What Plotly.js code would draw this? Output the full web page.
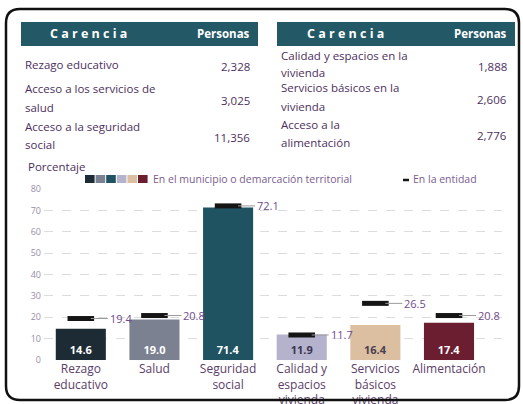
<!DOCTYPE html>
<html>
<head>
<meta charset="utf-8">
<script src="https://cdn.plot.ly/plotly-3.0.1.min.js"></script>
<style>html,body{margin:0;padding:0;background:#fff;}#chart{width:523px;height:404px;}</style>
</head>
<body>
<div id="chart"></div>
<script>
// ---- Data ----
const categories = ["Rezago<br>educativo", "Salud", "Seguridad<br>social", "Calidad y<br>espacios<br>vivienda", "Servicios<br>básicos<br>vivienda", "Alimentación"];
const municipioValues = [14.6, 19.0, 71.4, 11.9, 16.4, 17.4];
const entidadValues = [19.4, 20.8, 72.1, 11.7, 26.5, 20.8];
const barColors = ["#1d2c34", "#7c8192", "#1f5361", "#b4b2cc", "#dcbea0", "#6a1e30"];
const barTextColors = ["#ffffff", "#ffffff", "#ffffff", "#3a3550", "#4a4050", "#ffffff"];
const yTicks = [0, 10, 20, 30, 40, 50, 60, 70, 80];

const tableLeftCarencias = ["Rezago educativo", "Acceso a los servicios de<br>salud", "Acceso a la seguridad<br>social"];
const tableLeftPersonas = ["2,328", "3,025", "11,356"];
const tableRightCarencias = ["Calidad y espacios en la<br>vivienda", "Servicios básicos en la<br>vivienda", "Acceso a la<br>alimentación"];
const tableRightPersonas = ["1,888", "2,606", "2,776"];

// ---- Helpers (pixel -> paper fraction of whole figure) ----
const W = 523, H = 404;
const X = px => px / W;
const Y = py => 1 - py / H;
const FONT = "Open Sans, sans-serif";
const TXT = "#4d2f5e";
const HEAD = "#235866";

const traces = [
  {
    type: "bar",
    x: categories,
    y: municipioValues,
    marker: {color: barColors},
    text: municipioValues.map(v => "<b>" + v.toFixed(1) + "</b>"),
    textposition: "inside",
    insidetextanchor: "start",
    textfont: {family: FONT, size: 11, color: barTextColors},
    hoverinfo: "skip",
    showlegend: false
  },
  {
    type: "scatter",
    mode: "markers",
    x: categories,
    y: entidadValues,
    marker: {symbol: "line-ew", size: 19, color: "#151515", line: {width: 5, color: "#151515"}},
    hoverinfo: "skip",
    showlegend: false
  }
];

const annotations = [];
const shapes = [];

// entity value labels with thin connector
entidadValues.forEach((v, i) => {
  annotations.push({
    x: categories[i], y: v, xref: "x", yref: "y",
    text: v.toFixed(1), showarrow: true, ax: 27, ay: 0,
    xanchor: "left", arrowhead: 0, arrowwidth: 1, arrowcolor: "#9a9a9a", standoff: 10,
    font: {family: FONT, size: 11, color: "#6f4a8c"}
  });
});

// outer rounded frame
(function(){
  const l = 6, t = 9, r = 519, b = 400, rad = 14;
  const p = `M ${X(l)},${Y(b - rad)} L ${X(l)},${Y(t + rad)} Q ${X(l)},${Y(t)} ${X(l + rad)},${Y(t)} L ${X(r - rad)},${Y(t)} Q ${X(r)},${Y(t)} ${X(r)},${Y(t + rad)} L ${X(r)},${Y(b - rad)} Q ${X(r)},${Y(b)} ${X(r - rad)},${Y(b)} L ${X(l + rad)},${Y(b)} Q ${X(l)},${Y(b)} ${X(l)},${Y(b - rad)} Z`;
  shapes.push({type: "path", xref: "paper", yref: "paper", path: p, line: {color: "#111", width: 2.5}, fillcolor: "rgba(0,0,0,0)", layer: "above"});
})();

// tables
function addTable(x0, x1, carencias, personas, cx, rowYs) {
  shapes.push({type: "rect", xref: "paper", yref: "paper", x0: X(x0), x1: X(x1), y0: Y(46), y1: Y(22), fillcolor: HEAD, line: {width: 0}});
  annotations.push({xref: "paper", yref: "paper", x: X(cx), y: Y(34), text: "<b>C a r e n c i a</b>", showarrow: false, xanchor: "center", yanchor: "middle", font: {family: FONT, size: 12.5, color: "#ffffff"}});
  annotations.push({xref: "paper", yref: "paper", x: X(x1 - 6), y: Y(34), text: "<b>Personas</b>", showarrow: false, xanchor: "right", yanchor: "middle", font: {family: FONT, size: 11.5, color: "#ffffff"}});
  carencias.forEach((c, i) => {
    const lines = c.split("<br>");
    const step = 18;
    const top = rowYs[i] - (lines.length - 1) * step / 2;
    lines.forEach((ln, k) => {
      annotations.push({xref: "paper", yref: "paper", x: X(x0 + 2), y: Y(top + k * step), text: ln, showarrow: false, xanchor: "left", yanchor: "middle", align: "left", font: {family: FONT, size: 11.5, color: TXT}});
    });
    annotations.push({xref: "paper", yref: "paper", x: X(x1 - 6), y: Y(rowYs[i] + 2), text: personas[i], showarrow: false, xanchor: "right", yanchor: "middle", font: {family: FONT, size: 11.5, color: TXT}});
  });
}
addTable(21, 258, tableLeftCarencias, tableLeftPersonas, 88, [64, 98, 135]);
addTable(277, 515, tableRightCarencias, tableRightPersonas, 345, [64, 97, 133]);

// y-axis title
annotations.push({xref: "paper", yref: "paper", x: X(26), y: Y(167), text: "Porcentaje", showarrow: false, xanchor: "left", yanchor: "middle", font: {family: FONT, size: 11.5, color: TXT}});

// legend swatches
barColors.forEach((c, i) => {
  const sx = 85 + i * 10.6;
  shapes.push({type: "rect", xref: "paper", yref: "paper", x0: X(sx), x1: X(sx + 9.6), y0: Y(183), y1: Y(175), fillcolor: c, line: {width: 0}});
});
annotations.push({xref: "paper", yref: "paper", x: X(151), y: Y(179), text: "En el municipio o demarcación territorial", showarrow: false, xanchor: "left", yanchor: "middle", font: {family: FONT, size: 10.5, color: "#7a5d8e"}});
shapes.push({type: "line", xref: "paper", yref: "paper", x0: X(403), x1: X(409), y0: Y(180), y1: Y(180), line: {color: "#151515", width: 2.5}});
annotations.push({xref: "paper", yref: "paper", x: X(411), y: Y(179), text: "En la entidad", showarrow: false, xanchor: "left", yanchor: "middle", font: {family: FONT, size: 10.5, color: "#7a5d8e"}});

const layout = {
  width: W, height: H,
  margin: {l: 0, r: 0, t: 0, b: 0},
  paper_bgcolor: "#ffffff", plot_bgcolor: "#ffffff",
  bargap: 0.32,
  xaxis: {
    domain: [X(44), X(502)],
    anchor: "y",
    showgrid: false, zeroline: false, showline: false, ticks: "",
    tickfont: {family: FONT, size: 12, color: "#5a3d68"},
    fixedrange: true
  },
  yaxis: {
    domain: [Y(360), Y(189)],
    anchor: "x",
    range: [0, 80],
    tickvals: yTicks,
    ticktext: yTicks.map(String),
    showgrid: true, gridcolor: "#dcdcdc", griddash: "dash", gridwidth: 1,
    zeroline: false, showline: false, ticks: "",
    tickfont: {family: FONT, size: 9, color: "#9a8ea6"},
    ticklabelstandoff: 2,
    fixedrange: true
  },
  shapes: shapes,
  annotations: annotations,
  showlegend: false
};

Plotly.newPlot("chart", traces, layout, {displayModeBar: false, staticPlot: true});
</script>
</body>
</html>
